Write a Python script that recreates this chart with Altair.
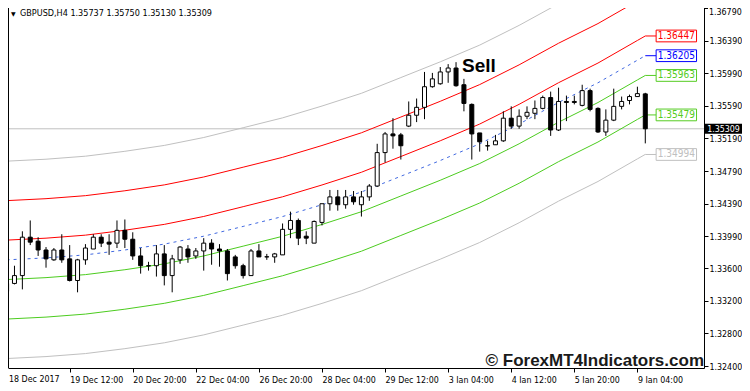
import altair as alt
import pandas as pd

# ---------------- data ----------------
OPEN = [1.33316, 1.33413, 1.33509, 1.33980, 1.33931, 1.33823, 1.33702, 1.33823, 1.33714, 1.33449,
        1.33702, 1.33835, 1.33980, 1.33919, 1.33907, 1.34064, 1.33955, 1.33750, 1.33630, 1.33630,
        1.33775, 1.33509, 1.33702, 1.33835, 1.33750, 1.33811, 1.33907, 1.33835, 1.33811, 1.33738,
        1.33630, 1.33509, 1.33811, 1.33738, 1.33738, 1.33763, 1.34076, 1.34185, 1.33992, 1.33907,
        1.34161, 1.34390, 1.34474, 1.34378, 1.34474, 1.34378, 1.34474, 1.34607, 1.35017, 1.35246,
        1.35234, 1.35342, 1.35475, 1.35572, 1.35825, 1.35861, 1.36006, 1.36054, 1.35849, 1.35608,
        1.35258, 1.35101, 1.35113, 1.35161, 1.35439, 1.35342, 1.35463, 1.35499, 1.35559, 1.35692,
        1.35294, 1.35644, 1.35644, 1.35596, 1.35777, 1.35559, 1.35270, 1.35415, 1.35584, 1.35656,
        1.35704, 1.35737]
HIGH = [1.33437, 1.33630, 1.34052, 1.34185, 1.33980, 1.33859, 1.33847, 1.34016, 1.33883, 1.33714,
        1.33895, 1.34016, 1.34016, 1.34016, 1.34185, 1.34197, 1.34040, 1.33847, 1.33678, 1.33883,
        1.33883, 1.33763, 1.33871, 1.33883, 1.33847, 1.33968, 1.33955, 1.33895, 1.33835, 1.33763,
        1.33654, 1.33835, 1.33895, 1.33775, 1.33787, 1.34148, 1.34293, 1.34209, 1.34052, 1.34185,
        1.34390, 1.34559, 1.34559, 1.34559, 1.34546, 1.34546, 1.34631, 1.35125, 1.35270, 1.35439,
        1.35258, 1.35644, 1.35680, 1.36006, 1.35994, 1.36066, 1.36102, 1.36126, 1.35921, 1.35620,
        1.35258, 1.35161, 1.35234, 1.35523, 1.35584, 1.35547, 1.35584, 1.35656, 1.35716, 1.35765,
        1.35813, 1.35716, 1.35716, 1.35849, 1.35801, 1.35572, 1.35547, 1.35801, 1.35704, 1.35728,
        1.35825, 1.35750]
LOW = [1.33292, 1.33401, 1.33340, 1.33883, 1.33750, 1.33606, 1.33690, 1.33666, 1.33437, 1.33304,
       1.33642, 1.33835, 1.33859, 1.33763, 1.33847, 1.33847, 1.33702, 1.33533, 1.33570, 1.33497,
       1.33389, 1.33304, 1.33654, 1.33666, 1.33714, 1.33570, 1.33642, 1.33618, 1.33449, 1.33594,
       1.33473, 1.33509, 1.33738, 1.33702, 1.33666, 1.33763, 1.33968, 1.33883, 1.33895, 1.33907,
       1.34124, 1.34305, 1.34305, 1.34329, 1.34378, 1.34233, 1.34426, 1.34595, 1.34896, 1.35065,
       1.34932, 1.35330, 1.35391, 1.35427, 1.35813, 1.35849, 1.35873, 1.35825, 1.35523, 1.34932,
       1.35029, 1.35041, 1.35113, 1.35149, 1.35309, 1.35309, 1.35427, 1.35427, 1.35547, 1.35222,
       1.35282, 1.35403, 1.35608, 1.35584, 1.35523, 1.35258, 1.35222, 1.35403, 1.35547, 1.35608,
       1.35704, 1.35130]
CLOSE = [1.33413, 1.33509, 1.33980, 1.33919, 1.33823, 1.33714, 1.33823, 1.33702, 1.33449, 1.33702,
         1.33847, 1.33980, 1.33907, 1.33895, 1.34064, 1.33955, 1.33750, 1.33630, 1.33628, 1.33775,
         1.33509, 1.33714, 1.33859, 1.33738, 1.33811, 1.33907, 1.33835, 1.33811, 1.33533, 1.33630,
         1.33509, 1.33811, 1.33738, 1.33740, 1.33775, 1.34076, 1.34185, 1.33968, 1.33968, 1.34173,
         1.34390, 1.34474, 1.34378, 1.34474, 1.34414, 1.34474, 1.34607, 1.35017, 1.35246, 1.35222,
         1.35101, 1.35475, 1.35572, 1.35825, 1.35921, 1.36006, 1.36054, 1.35837, 1.35620, 1.35246,
         1.35149, 1.35099, 1.35161, 1.35439, 1.35342, 1.35463, 1.35511, 1.35559, 1.35692, 1.35294,
         1.35644, 1.35632, 1.35632, 1.35777, 1.35547, 1.35270, 1.35415, 1.35584, 1.35644, 1.35704,
         1.35740, 1.35309]
BAR = list(range(len(OPEN)))

DATE_TICKS = [0, 8, 16, 24, 32, 40, 48, 56, 64, 72, 80]
DATE_LABELS = ["18 Dec 2017", "19 Dec 12:00", "20 Dec 20:00", "22 Dec 04:00", "26 Dec 20:00",
               "28 Dec 04:00", "29 Dec 12:00", "3 Jan 04:00", "4 Jan 12:00", "5 Jan 20:00",
               "9 Jan 04:00"]
PRICE_TICKS = [1.32400, 1.32800, 1.33200, 1.33600, 1.33990, 1.34390, 1.34790,
               1.35190, 1.35590, 1.35990, 1.36390, 1.36790]

# middle line of the channel, read at a few bars
MID_BAR = [0, 5, 10, 15, 20, 25, 30, 35, 40, 45, 50, 55, 60, 65, 70, 75, 80, 81]
MID_PRICE = [1.33702, 1.33726, 1.33763, 1.33823, 1.33895, 1.33992, 1.34112, 1.34233, 1.34378,
             1.34534, 1.34727, 1.34920, 1.35125, 1.35367, 1.35632, 1.35873, 1.36150, 1.36205]
BAND_STEP = 0.00242
BAND_MULT = [5, 3, 1, -1, -3, -5]
BAND_COLOR = ["#c0c0c0", "#ff0000", "#ff0000", "#4ccc1f", "#4ccc1f", "#c0c0c0"]
MID_COLOR = "#4169e1"

TAG_PRICE = [1.36447, 1.36205, 1.35963, 1.35479, 1.34994]
TAG_COLOR = ["#ff0000", "#0000ff", "#55cc22", "#55cc22", "#c0c0c0"]
LAST_PRICE = 1.35309

# ---------------- layout ----------------
W, H = 696, 360
X_DOMAIN = [0.8125, 87.8125]
Y_DOMAIN = [1.32376, 1.36790]
FONT = "DejaVu Sans Condensed, Liberation Sans, sans-serif"
AX_FS = 8.8

xs = alt.Scale(domain=X_DOMAIN, nice=False, zero=False)
ys = alt.Scale(domain=Y_DOMAIN, nice=False, zero=False)

label_expr = "[" + ",".join("'%s'" % s for s in DATE_LABELS) + "][round(datum.value / 8)]"
x_axis = alt.Axis(values=DATE_TICKS[1:], labelExpr=label_expr, title=None, grid=False,
                  domainColor="black", tickColor="black", tickSize=4, labelColor="black",
                  labelFont=FONT, labelFontSize=AX_FS, labelAlign="left", labelBaseline="top",
                  labelPadding=3, labelFlush=False, labelOverlap=False)
y_axis = alt.Axis(orient="right", values=PRICE_TICKS[:-1], format=".5f", title=None, grid=False,
                  domainColor="black", tickColor="black", tickSize=4, labelColor="black",
                  labelFont=FONT, labelFontSize=AX_FS, labelPadding=1, labelFlush=False,
                  labelOverlap=False)


def X(f):
    return alt.X(f, type="quantitative", scale=xs, axis=x_axis)


def Y(f):
    return alt.Y(f, type="quantitative", scale=ys, axis=y_axis)


candles = pd.DataFrame({"i": BAR, "o": OPEN, "h": HIGH, "l": LOW, "c": CLOSE})

rows = []
for m, col in zip(BAND_MULT, BAND_COLOR):
    for b, p in zip(MID_BAR, MID_PRICE):
        rows.append({"i": b, "band": m, "col": col, "v": p + m * BAND_STEP})
bands_df = pd.DataFrame(rows)
mid_df = pd.DataFrame({"i": MID_BAR, "v": MID_PRICE})
tags_df = pd.DataFrame({"p": TAG_PRICE, "col": TAG_COLOR})
last_df = pd.DataFrame({"p": [LAST_PRICE]})

price_line = alt.Chart(last_df).mark_rule(color="#c0c0c0", strokeWidth=1).encode(y=Y("p"))

bands = alt.Chart(bands_df).mark_line(strokeWidth=1, clip=True).encode(
    x=X("i"), y=Y("v"), detail="band:N",
    color=alt.Color("col:N", scale=None))

mid = alt.Chart(mid_df).mark_line(strokeWidth=1, strokeDash=[3, 4], color=MID_COLOR, clip=True).encode(
    x=X("i"), y=Y("v"))

connectors = alt.Chart(tags_df).transform_calculate(xa="81", xb="82.375").mark_rule(strokeWidth=1).encode(
    x=X("xa"), x2="xb:Q", y=Y("p"), color=alt.Color("col:N", scale=None))

wicks = alt.Chart(candles).mark_rule(color="black", strokeWidth=1, clip=True).encode(
    x=X("i"), y=Y("l"), y2="h:Q")

bodies = alt.Chart(candles).mark_bar(size=4, stroke="black", strokeWidth=1, clip=True).encode(
    x=X("i"), y=Y("o"), y2="c:Q",
    fill=alt.condition("datum.c >= datum.o", alt.value("white"), alt.value("black")))

tag_boxes = alt.Chart(tags_df).transform_calculate(
    x0="82.375", x1="87.5", y0="datum.p - 0.00072", y1="datum.p + 0.00072"
).mark_rect(fill="white", strokeWidth=1).encode(
    x=X("x0"), x2="x1:Q", y=Y("y0"), y2="y1:Q", stroke=alt.Stroke("col:N", scale=None))

tag_text = alt.Chart(tags_df).transform_calculate(xc="84.94").mark_text(
    font=FONT, fontSize=10, align="center", baseline="middle").encode(
    x=X("xc"), y=Y("p"), text=alt.Text("p:Q", format=".5f"), color=alt.Color("col:N", scale=None))

# current price tag on the right axis
last_box = alt.Chart(last_df).transform_calculate(
    y0="datum.p - 0.00062", y1="datum.p + 0.00062"
).mark_rect(fill="black").encode(
    x=alt.value(W + 1), x2=alt.value(W + 38), y=Y("y0"), y2="y1:Q")

last_text = alt.Chart(last_df).mark_text(
    font=FONT, fontSize=AX_FS, align="center", baseline="middle", color="white").encode(
    x=alt.value(W + 19.5), y=Y("p"), text=alt.Text("p:Q", format=".5f"))

# top price label (at the very edge of the plot) and first date label
top_label = alt.Chart(pd.DataFrame({"t": ["%.5f" % PRICE_TICKS[-1]]})).mark_text(
    font=FONT, fontSize=AX_FS, align="left", baseline="top", color="black").encode(
    x=alt.value(W + 5), y=alt.value(0), text="t:N")
top_tick = alt.Chart(pd.DataFrame({"t": [0]})).mark_rule(color="black", strokeWidth=1).encode(
    x=alt.value(W), x2=alt.value(W + 4), y=alt.value(0.5))
first_date = alt.Chart(pd.DataFrame({"t": [DATE_LABELS[0]]})).mark_text(
    font=FONT, fontSize=AX_FS, align="left", baseline="top", color="black").encode(
    x=alt.value(1), y=alt.value(H + 7), text="t:N")

sell = alt.Chart(pd.DataFrame({"t": ["Sell"]})).transform_calculate(
    sx="59.9", sy="1.36006").mark_text(
    font="Liberation Sans", fontWeight="bold", fontSize=19, align="center",
    baseline="alphabetic", color="black").encode(x=X("sx"), y=Y("sy"), text="t:N")

copyright_ = alt.Chart(pd.DataFrame({"t": ["\u00a9 ForexMT4Indicators.com"]})).mark_text(
    font="Liberation Sans", fontWeight="bold", fontSize=17, align="right",
    baseline="alphabetic", color="#1a1a1a").encode(
    x=alt.value(W), y=alt.value(H - 2), text="t:N")

header_txt = "GBPUSD,H4  %.5f %.5f %.5f %.5f" % (OPEN[-1], HIGH[-1], LOW[-1], CLOSE[-1])
header = alt.Chart(pd.DataFrame({"t": [header_txt]})).mark_text(
    font=FONT, fontSize=9, align="left", baseline="top", color="black").encode(
    x=alt.value(12), y=alt.value(1), text="t:N")
tri = alt.Chart(pd.DataFrame({"t": ["\u25bc"]})).mark_text(
    font="DejaVu Sans", fontSize=6, align="left", baseline="top", color="black").encode(
    x=alt.value(3), y=alt.value(3), text="t:N")

border = alt.Chart(pd.DataFrame({"t": [0]})).mark_rule(color="black", strokeWidth=1).encode(
    x=alt.value(0.5), y=alt.value(0), y2=alt.value(H))

chart = alt.layer(
    price_line, bands, mid, connectors, wicks, bodies, tag_boxes, tag_text,
    last_box, last_text, top_label, top_tick, first_date, sell, copyright_, header, tri, border
).properties(
    width=W, height=H,
    autosize=alt.AutoSizeParams(type="none"),
    padding={"left": 0, "top": 0, "right": 38, "bottom": 15},
    background="white",
).configure_view(stroke="transparent")

chart.save("out.html", embed_options={"renderer": "svg", "actions": False})
